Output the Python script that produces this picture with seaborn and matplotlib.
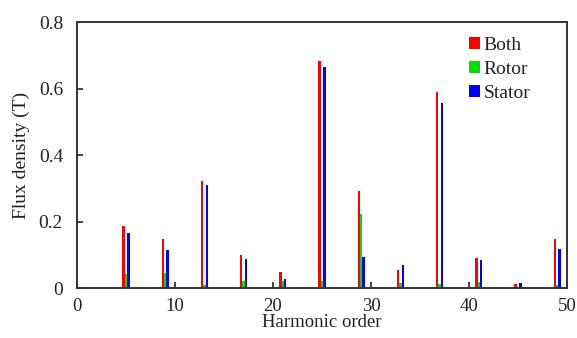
import matplotlib
matplotlib.use("Agg")
import matplotlib.pyplot as plt
import seaborn as sns
import pandas as pd

orders = [5, 9, 13, 17, 21, 25, 29, 33, 37, 41, 45, 49]
both = [0.187, 0.146, 0.322, 0.098, 0.047, 0.684, 0.293, 0.053, 0.589, 0.089, 0.011, 0.148]
rotor = [0.043, 0.045, 0.010, 0.020, 0.020, 0.020, 0.224, 0.016, 0.013, 0.019, 0.002, 0.010]
stator = [0.164, 0.114, 0.310, 0.086, 0.027, 0.666, 0.092, 0.069, 0.556, 0.083, 0.014, 0.116]
series = ["Both", "Rotor", "Stator"]
colors = ["#FF0000", "#00E000", "#0000FF"]

df = pd.DataFrame({
    "order": orders * 3,
    "value": both + rotor + stator,
    "source": [s for s in series for _ in orders],
})

sns.set_style("white")
plt.rcParams["font.family"] = ["Liberation Serif", "DejaVu Serif"]

fig = plt.figure(figsize=(5.77, 3.38), dpi=100)
ax = fig.add_axes([0.1334, 0.1479, 0.8493, 0.787])

sns.barplot(data=df, x="order", y="value", hue="source", hue_order=series,
            palette=colors, native_scale=True, width=0.1875, gap=0,
            dodge=True, ax=ax, errorbar=None, saturation=1, linewidth=0)

ax.set_xlim(0, 50)
ax.set_ylim(0, 0.8)
ax.set_xticks([0, 10, 20, 30, 40, 50])
ax.set_xticklabels(["0", "10", "20", "30", "40", "50"])
ax.set_yticks([0, 0.2, 0.4, 0.6, 0.8])
ax.set_yticklabels(["0", "0.2", "0.4", "0.6", "0.8"])
ax.tick_params(axis="both", direction="in", length=4, width=1.2,
               colors="#222222", labelcolor="#222222", top=False, right=False,
               bottom=True, left=True)
ax.tick_params(axis="x", pad=7, labelsize=13.5)
ax.tick_params(axis="y", pad=10, labelsize=14)
for sp in ax.spines.values():
    sp.set_color("#333333")
    sp.set_linewidth(1.4)
    sp.set_visible(True)

ax.set_xlabel("Harmonic order", fontsize=13.5, color="#222222", labelpad=-0.5)
ax.set_ylabel("Flux density (T)", fontsize=14, color="#222222", labelpad=6)

leg = ax.legend(loc="upper left", bbox_to_anchor=(0.80, 0.945), frameon=False,
                fontsize=14, handlelength=0.55, handleheight=0.55,
                handletextpad=0.2, labelspacing=0.37, borderpad=0,
                borderaxespad=0)
for t in leg.get_texts():
    t.set_color("#222222")

fig.savefig("out.png", dpi=100)
